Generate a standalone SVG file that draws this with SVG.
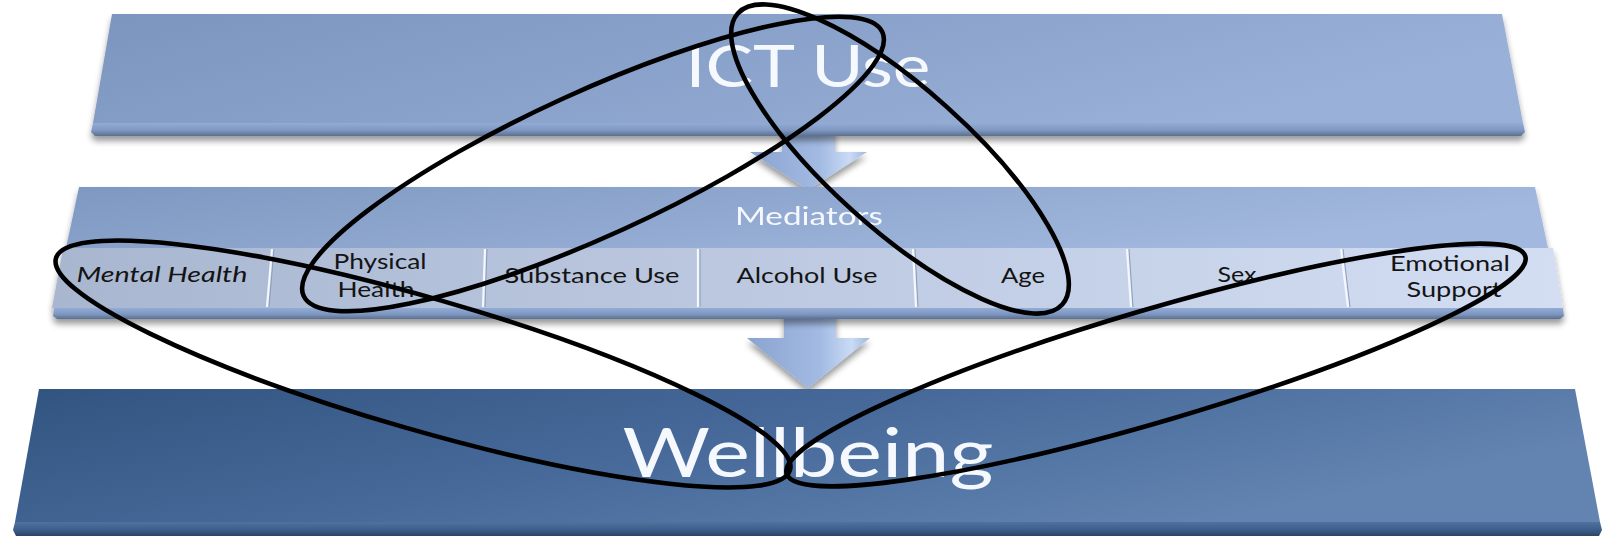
<svg xmlns="http://www.w3.org/2000/svg" width="1608" height="536" viewBox="0 0 1608 536">
<defs>
<style>
.title{font-family:Lato,"Noto Sans",sans-serif;fill:#f5f8fd;text-anchor:middle}
.tab{font-family:Lato,"Noto Sans",sans-serif;font-size:21px;fill:#141414;text-anchor:middle}
.ring{fill:none;stroke:#000;stroke-width:4.6}
.div1{stroke:#f4f8fe;stroke-width:2.2}
.div2{stroke:#8c9dbd;stroke-width:1}
</style>
<linearGradient id="gTop" x1="0" y1="0" x2="1" y2="0.3">
<stop offset="0" stop-color="#7b95be"/><stop offset="1" stop-color="#99b0d8"/>
</linearGradient>
<linearGradient id="gMed" x1="0" y1="0" x2="1" y2="0.3">
<stop offset="0" stop-color="#7e98c1"/><stop offset="1" stop-color="#a2b8de"/>
</linearGradient>
<linearGradient id="gTabs" x1="0" y1="0" x2="1" y2="0">
<stop offset="0" stop-color="#a8b6d0"/><stop offset="1" stop-color="#d3def3"/>
</linearGradient>
<linearGradient id="gWell" x1="0" y1="0" x2="1" y2="0.4">
<stop offset="0" stop-color="#31547f"/><stop offset="0.5" stop-color="#46699a"/><stop offset="1" stop-color="#6384b0"/>
</linearGradient>
<linearGradient id="gBevLight" x1="0" y1="0" x2="0" y2="1">
<stop offset="0" stop-color="#93acd6"/><stop offset="0.55" stop-color="#7f98c2"/><stop offset="1" stop-color="#5b6f90"/>
</linearGradient>
<linearGradient id="gBevDark" x1="0" y1="0" x2="0" y2="1">
<stop offset="0" stop-color="#4f72a0"/><stop offset="0.55" stop-color="#3d5e8a"/><stop offset="1" stop-color="#2a4467"/>
</linearGradient>
<linearGradient id="gArrow" x1="0" y1="0" x2="1" y2="0">
<stop offset="0" stop-color="#8aa3d0"/><stop offset="0.6" stop-color="#a3bbe3"/><stop offset="0.85" stop-color="#c9dbf5"/><stop offset="1" stop-color="#9fb6de"/>
</linearGradient>
<filter id="sh" x="-5%" y="-30%" width="110%" height="170%">
<feGaussianBlur in="SourceAlpha" stdDeviation="3"/>
<feOffset dy="5"/>
<feComponentTransfer><feFuncA type="linear" slope="0.4"/></feComponentTransfer>
<feMerge><feMergeNode/><feMergeNode in="SourceGraphic"/></feMerge>
</filter>
</defs>
<rect width="1608" height="536" fill="#ffffff"/>

<g id="connectors" filter="url(#sh)">
<path d="M782 128 H835 V152 H867 L808 190 L750 152 H782 Z" fill="url(#gArrow)"/>
<path d="M784 312 H836 V338 H870 L808 388 L747 338 H784 Z" fill="url(#gArrow)"/>
</g>

<g id="node-ict" filter="url(#sh)">
<path d="M112 14 H1502 L1523 123 H93 Z" fill="url(#gTop)"/>
<path d="M93 123 H1523 L1525 132 L1521 136 H95 L91 132 Z" fill="url(#gBevLight)"/>
<text class="title" x="808" y="87" font-size="58" textLength="245" lengthAdjust="spacingAndGlyphs">ICT Use</text>
</g>

<g id="node-mediators" filter="url(#sh)">
<path d="M79 187 H1535 L1548 248 H66 Z" fill="url(#gMed)"/>
<path d="M54 308 H1563 L1564 316 L1560 319 H57 L53 316 Z" fill="url(#gBevLight)"/>
<path d="M63 248 H1553 L1563 308 H52 Z" fill="url(#gTabs)"/>
<text class="title" x="809" y="225" font-size="25" textLength="148" lengthAdjust="spacingAndGlyphs">Mediators</text>
<g id="tab-dividers">
<line class="div2" x1="274" y1="249" x2="269" y2="307"/><line class="div1" x1="272" y1="249" x2="267" y2="307"/>
<line class="div2" x1="487" y1="249" x2="485" y2="307"/><line class="div1" x1="485" y1="249" x2="483" y2="307"/>
<line class="div2" x1="700" y1="249" x2="700" y2="307"/><line class="div1" x1="698" y1="249" x2="698" y2="307"/>
<line class="div2" x1="915" y1="249" x2="918" y2="307"/><line class="div1" x1="913" y1="249" x2="916" y2="307"/>
<line class="div2" x1="1129" y1="249" x2="1133" y2="307"/><line class="div1" x1="1127" y1="249" x2="1131" y2="307"/>
<line class="div2" x1="1343" y1="249" x2="1350" y2="307"/><line class="div1" x1="1341" y1="249" x2="1348" y2="307"/>
</g>
</g>

<g id="tab-mental-health"><text class="tab" x="162" y="282" font-style="italic" textLength="171" lengthAdjust="spacingAndGlyphs">Mental Health</text></g>
<g id="tab-physical-health"><text class="tab" x="380" y="269" textLength="93" lengthAdjust="spacingAndGlyphs">Physical</text><text class="tab" x="376" y="297" textLength="77" lengthAdjust="spacingAndGlyphs">Health</text></g>
<g id="tab-substance-use"><text class="tab" x="592" y="283" textLength="175" lengthAdjust="spacingAndGlyphs">Substance Use</text></g>
<g id="tab-alcohol-use"><text class="tab" x="807" y="283" textLength="141" lengthAdjust="spacingAndGlyphs">Alcohol Use</text></g>
<g id="tab-age"><text class="tab" x="1023" y="283" textLength="44" lengthAdjust="spacingAndGlyphs">Age</text></g>
<g id="tab-sex"><text class="tab" x="1237" y="282" textLength="39" lengthAdjust="spacingAndGlyphs">Sex</text></g>
<g id="tab-emotional-support"><text class="tab" x="1450" y="271" textLength="120" lengthAdjust="spacingAndGlyphs">Emotional</text><text class="tab" x="1454" y="297" textLength="95" lengthAdjust="spacingAndGlyphs">Support</text></g>

<g id="node-wellbeing">
<path d="M39 389 H1575 L1600 522 H15 Z" fill="url(#gWell)"/>
<path d="M15 522 H1600 L1602 530 L1599 536 H16 L13 530 Z" fill="url(#gBevDark)"/>
<text class="title" x="808" y="477" font-size="68" textLength="371" lengthAdjust="spacingAndGlyphs">Wellbeing</text>
</g>

<g id="highlights">
<ellipse class="ring" cx="0" cy="0" rx="318" ry="72" transform="translate(593 164) rotate(-24.5)"/>
<ellipse class="ring" cx="0" cy="0" rx="218" ry="70" transform="translate(900 159) rotate(41.9)"/>
<ellipse class="ring" cx="0" cy="0" rx="382" ry="66" transform="translate(423 364) rotate(16.1)"/>
<ellipse class="ring" cx="0" cy="0" rx="385" ry="56" transform="translate(1156 365) rotate(-16.4)"/>
</g>
</svg>
